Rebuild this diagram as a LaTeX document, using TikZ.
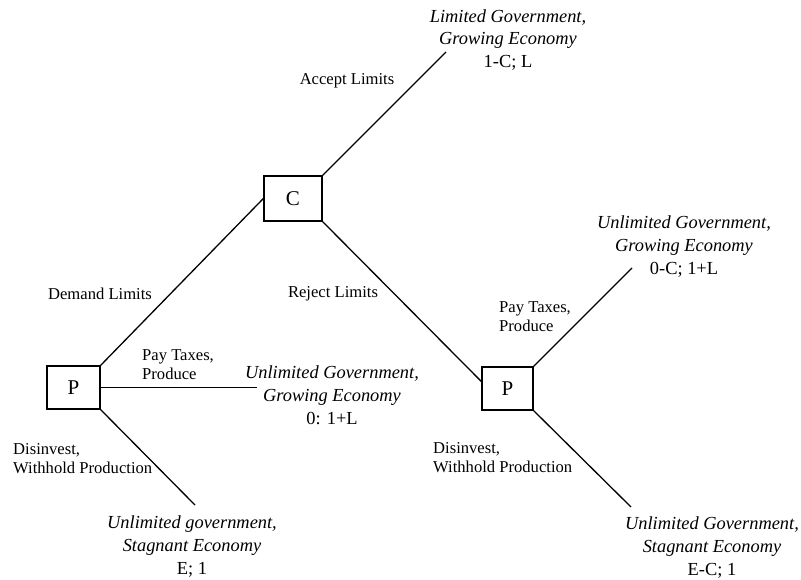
\documentclass[tikz,border=0pt]{standalone}
\usepackage{fontspec}
\setmainfont{Liberation Serif}
\begin{document}
\begin{tikzpicture}[x=1pt,y=-1pt,
  player/.style={draw,line width=1.3pt,rectangle,inner sep=0pt,font=\fontsize{21}{24}\selectfont},
  edge/.style={line width=1.3pt},
  outcome/.style={align=center,inner sep=0pt,font=\fontsize{18.4}{22.8}\selectfont\itshape},
  lbl/.style={inner sep=0pt,font=\fontsize{16.6}{19}\selectfont},
  lbll/.style={lbl,align=left,anchor=west}]
\useasboundingbox (0,0) rectangle (801,580);
% decision nodes
\node[player,minimum width=58pt,minimum height=45pt] (C) at (293,198.5) {C};
\node[player,minimum width=53pt,minimum height=43pt] (Pl) at (73.5,387.5) {P};
\node[player,minimum width=51pt,minimum height=43pt] (Pr) at (507.5,388.5) {P};
% free ends
\coordinate (eA) at (446,52);
\coordinate (eLp) at (257,387.5);
\coordinate (eLd) at (195,505);
\coordinate (eRp) at (632,268);
\coordinate (eRd) at (631,507);
% edges
\draw[edge] (C.north east) -- (eA);
\draw[edge] (Pl.north east) -- (C.west);
\draw[edge] (C.south east) -- (Pr.165);
\draw[edge] (Pl.east) -- (eLp);
\draw[edge] (Pl.south east) -- (eLd);
\draw[edge] (Pr.north east) -- (eRp);
\draw[edge] (Pr.south east) -- (eRd);
% outcomes
\node[outcome] (oA) at (508,40) {Limited Government,\\Growing Economy\\\upshape 1-C; L};
\node[outcome] (oRp) at (684,246.5) {Unlimited Government,\\Growing Economy\\\upshape 0-C; 1+L};
\node[outcome] (oLp) at (332,395) {Unlimited Government,\\Growing Economy\\\upshape 0: 1+L};
\node[outcome] (oLd) at (192,546.5) {Unlimited government,\\Stagnant Economy\\\upshape E; 1};
\node[outcome] (oRd) at (712,547.5) {Unlimited Government,\\Stagnant Economy\\\upshape E-C; 1};
% labels
\node[lbl] (lA) at (347,81) {Accept Limits};
\node[lbl] (lD) at (100,294) {Demand Limits};
\node[lbl] (lR) at (333,294) {Reject Limits};
\node[lbll] (lLp) at (142,364.5) {Pay Taxes,\\Produce};
\node[lbll] (lLd) at (13,459) {Disinvest,\\Withhold Production};
\node[lbll] (lRp) at (499,316.5) {Pay Taxes,\\Produce};
\node[lbll] (lRd) at (433,458) {Disinvest,\\Withhold Production};
\end{tikzpicture}
\end{document}
